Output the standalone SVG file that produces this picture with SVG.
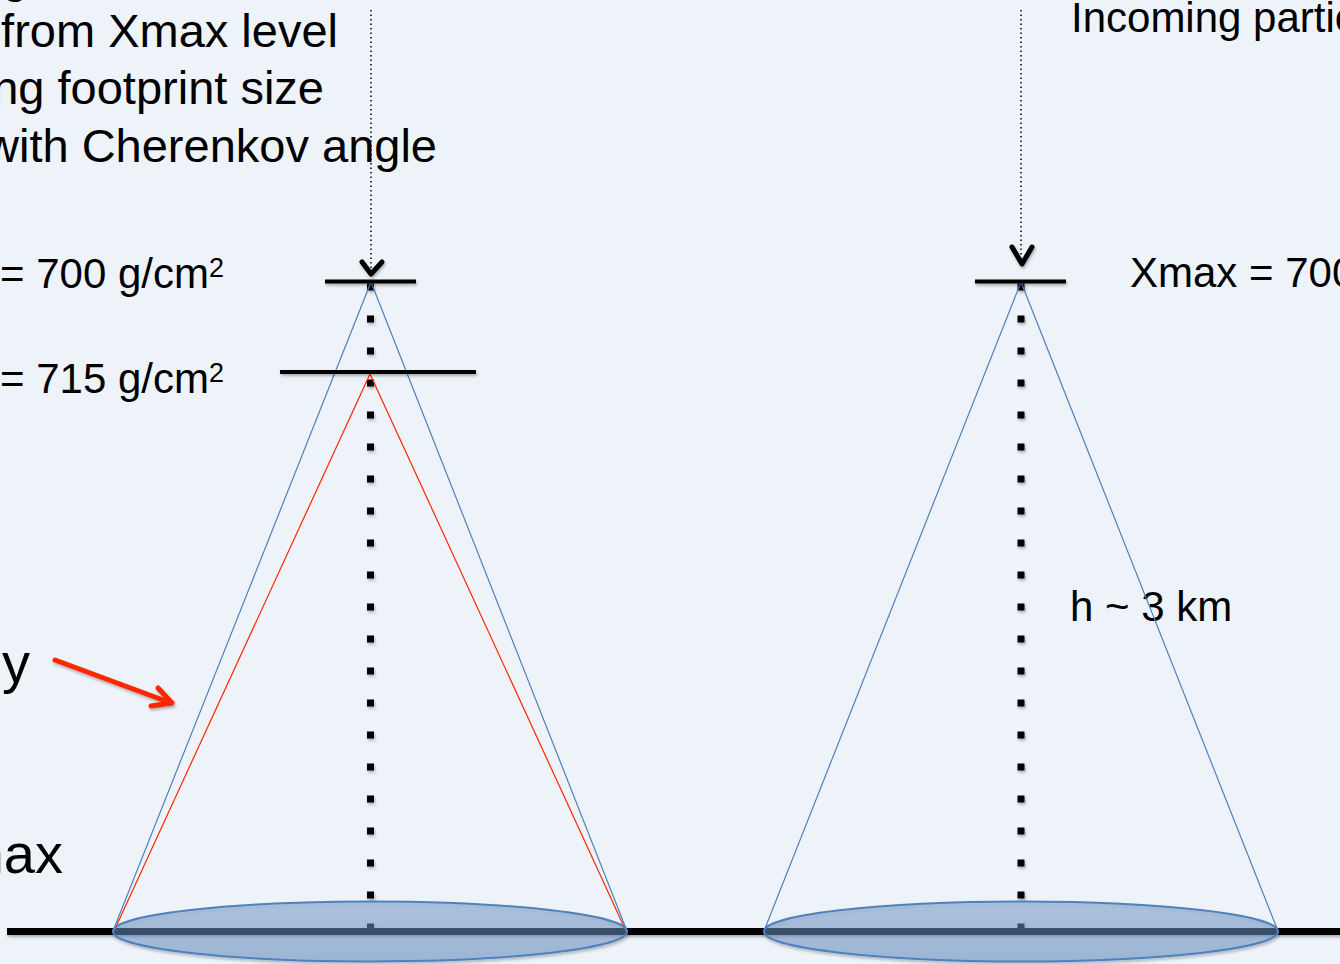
<svg xmlns="http://www.w3.org/2000/svg" width="1340" height="964" viewBox="0 0 1340 964">
  <defs>
    <style>
      .txt { font-family: "Liberation Sans", Arial, Helvetica, sans-serif; fill: #000; }
      .big { font-size: 47px; }
      .mid { font-size: 42px; }
      .lg { font-size: 56px; }
      .bar { stroke: #000; stroke-width: 4; fill: none; }
      .blue { stroke: #4F81BD; stroke-width: 1.2; fill: none; }
      .red { stroke: #FF2600; stroke-width: 1.2; fill: none; }
      .axis { stroke: #000; stroke-width: 7; stroke-dasharray: 7 25; fill: none; }
      .thin { stroke: #000; stroke-width: 1.5; stroke-dasharray: 1.5 3; fill: none; }
      .chev { stroke: #000; stroke-width: 5; fill: none; stroke-linecap: round; stroke-linejoin: round; }
      .foot { fill: url(#footFill); stroke: #4F81BD; stroke-width: 2; }
    </style>
    <linearGradient id="footFill" x1="0" y1="0" x2="0" y2="1">
      <stop offset="0" stop-color="#7A9FCC" stop-opacity="0.45"/>
      <stop offset="1" stop-color="#6590C5" stop-opacity="0.5"/>
    </linearGradient>
    <filter id="shadow" filterUnits="userSpaceOnUse" x="0" y="0" width="1340" height="964">
      <feDropShadow dx="1" dy="2" stdDeviation="1.5" flood-color="#000" flood-opacity="0.3"/>
    </filter>
  </defs>

  <rect x="0" y="0" width="1340" height="964" fill="#EEF3FA"/>

  <!-- text on the left, clipped by the canvas edge as in the reference -->
  <g id="description">
    <text class="txt big" x="2" y="-8">g</text>
    <text class="txt big" x="338" y="47" text-anchor="end">from Xmax level</text>
    <text class="txt big" x="324" y="104" text-anchor="end">ng footprint size</text>
    <text class="txt big" x="437" y="162" text-anchor="end">with Cherenkov angle</text>
  </g>

  <g id="label-700-left">
    <text class="txt mid" x="0" y="288">= 700 g/cm<tspan font-size="27" dy="-11">2</tspan></text>
  </g>
  <g id="label-715-left">
    <text class="txt mid" x="0" y="393">= 715 g/cm<tspan font-size="27" dy="-11">2</tspan></text>
  </g>
  <g id="label-y">
    <text class="txt lg" x="2" y="682">y</text>
  </g>
  <g id="label-max">
    <text class="txt lg" x="63" y="873" text-anchor="end">max</text>
  </g>

  <g id="label-incoming">
    <text class="txt mid" x="1071" y="32">Incoming partic</text>
  </g>
  <g id="label-700-right">
    <text class="txt mid" x="1130" y="287">Xmax = 700</text>
  </g>
  <g id="label-h">
    <text class="txt mid" x="1070" y="621">h ~ 3 km</text>
  </g>

  <!-- ground -->
  <g id="ground">
    <line x1="7" y1="931.5" x2="1340" y2="931.5" stroke="#000" stroke-width="7" filter="url(#shadow)"/>
  </g>

  <!-- left shower -->
  <g id="shower-left">
    <line class="axis" x1="370.5" y1="283.5" x2="370.5" y2="935" filter="url(#shadow)"/>
    <polyline class="blue" points="113,931 371,282 627,931"/>
    <polyline class="red" points="114,931 370,374 626,931"/>
    <line class="bar" x1="325" y1="281.5" x2="416" y2="281.5" filter="url(#shadow)"/>
    <line class="bar" x1="280" y1="372" x2="476" y2="372" filter="url(#shadow)"/>
    <ellipse class="foot" cx="370" cy="931.5" rx="257" ry="30" filter="url(#shadow)"/>
  </g>

  <!-- right shower -->
  <g id="shower-right">
    <line class="axis" x1="1021" y1="283.5" x2="1021" y2="935" filter="url(#shadow)"/>
    <polyline class="blue" points="764,931 1021,282 1278,931"/>
    <line class="bar" x1="975" y1="281.5" x2="1066" y2="281.5" filter="url(#shadow)"/>
    <ellipse class="foot" cx="1021" cy="931.5" rx="257" ry="30" filter="url(#shadow)"/>
  </g>

  <!-- connectors -->
  <g id="connectors">
    <line class="thin" x1="371" y1="10" x2="371" y2="272"/>
    <polyline class="chev" points="362,262 371,274 382,262" filter="url(#shadow)"/>
    <line class="thin" x1="1021" y1="10" x2="1021" y2="262"/>
    <polyline class="chev" points="1012,247 1022,264 1032,247" filter="url(#shadow)"/>
    <g stroke="#FF2600" stroke-width="5" fill="none" stroke-linecap="round" stroke-linejoin="round" filter="url(#shadow)">
      <line x1="55" y1="660" x2="171" y2="703"/>
      <polyline points="158,688 172,703 151,706"/>
    </g>
  </g>
</svg>
